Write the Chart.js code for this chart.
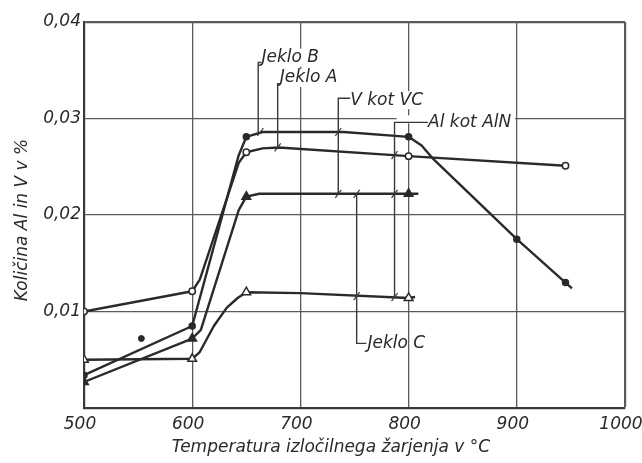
<!DOCTYPE html>
<html>
<head>
<meta charset="utf-8">
<script src="https://cdn.jsdelivr.net/npm/chart.js@4.4.1/dist/chart.umd.min.js"></script>
<style>
  html, body { margin: 0; padding: 0; background: #fff; }
</style>
</head>
<body>
<canvas id="chart" width="642" height="463"></canvas>
<script>
// --- data ---
const xTicks = [500, 600, 700, 800, 900, 1000];
const yTicks = [0, 0.01, 0.02, 0.03, 0.04];

// Jeklo B (filled circles)
const jekloB_T = [500, 600, 643, 650, 665, 740, 800, 812, 822, 900, 945, 951];
const jekloB_V = [0.0034, 0.0085, 0.0262, 0.0281, 0.0286, 0.0286, 0.0281, 0.0272, 0.0259, 0.0175, 0.0130, 0.0124];
const jekloB_meas = [500, 600, 650, 800, 900, 945];

// Jeklo A (open circles)
const jekloA_T = [500, 600, 607, 643, 650, 665, 680, 800, 945];
const jekloA_V = [0.0100, 0.0121, 0.0133, 0.0254, 0.0265, 0.0269, 0.0270, 0.0261, 0.0251];
const jekloA_meas = [500, 600, 650, 800, 945];

// Jeklo C, V (filled triangles)
const jekloCV_T = [500, 600, 608, 643, 650, 662, 800, 809];
const jekloCV_V = [0.0027, 0.0072, 0.0081, 0.0205, 0.0219, 0.0222, 0.0222, 0.0222];
const jekloCV_meas = [500, 600, 650, 800];

// Jeklo C, Al (open triangles)
const jekloCAl_T = [500, 600, 607, 620, 632, 642, 650, 700, 800, 806];
const jekloCAl_V = [0.0050, 0.0051, 0.0058, 0.0085, 0.0104, 0.0114, 0.0120, 0.0119, 0.0114, 0.0115];
const jekloCAl_meas = [500, 600, 650, 800];

// single stray point
const strayT = [553];
const strayV = [0.0072];

// --- labels with leader lines (data units) ---
const notes = [
  { text: 'Jeklo B',    at: [664, 0.0363], path: [[664, 0.0358], [661, 0.0358], [661, 0.0286]], bg: true },
  { text: 'Jeklo A',    at: [681, 0.0342], path: [[681, 0.0336], [679, 0.0336], [679, 0.0270]], bg: true },
  { text: 'V kot VC',   at: [746, 0.0319], path: [[746, 0.0321], [735, 0.0321], [735, 0.0222]], bg: true },
  { text: 'Al kot AlN', at: [818, 0.0296], path: [[818, 0.0296], [787, 0.0296], [787, 0.0115]], bg: true },
  { text: 'Jeklo C',    at: [762, 0.0067], path: [[761, 0.0067], [752, 0.0067], [752, 0.0222]], bg: false }
];
const slashes = [[663, 0.0286], [679, 0.0270], [735, 0.0286], [735, 0.0222], [752, 0.0222],
                 [752, 0.0116], [787, 0.0262], [787, 0.0222], [787, 0.0115]];

const INK = '#2a2a2a';
const FONT = 'italic 17px "DejaVu Sans"';

function pts(T, V) { return T.map((t, i) => ({ x: t, y: V[i] })); }
function marks(meas, r) {
  return ctx => (ctx.raw && meas.includes(ctx.raw.x)) ? r : 0;
}

const annotate = {
  id: 'annotate',
  afterDatasetsDraw(chart) {
    const { ctx, scales: { x, y } } = chart;
    ctx.save();
    ctx.font = FONT;
    ctx.textBaseline = 'middle';
    ctx.textAlign = 'left';
    notes.forEach(n => {
      const tx = x.getPixelForValue(n.at[0]);
      const ty = y.getPixelForValue(n.at[1]);
      const w = ctx.measureText(n.text).width;
      if (n.bg) {
        // clear grid behind the text, and a thin strip along the leader
        const x0 = Math.min(...n.path.map(p => x.getPixelForValue(p[0]))) + 2;
        ctx.fillStyle = '#fff';
        ctx.fillRect(tx - 3, ty - 9, w + 7, 18);
        ctx.fillRect(x0, ty - 7, tx - x0, 8);
      }
      ctx.strokeStyle = '#3a3a3a';
      ctx.lineWidth = 1.4;
      ctx.beginPath();
      n.path.forEach((p, i) => {
        const px = x.getPixelForValue(p[0]), py = y.getPixelForValue(p[1]);
        i ? ctx.lineTo(px, py) : ctx.moveTo(px, py);
      });
      ctx.stroke();
      ctx.fillStyle = INK;
      ctx.fillText(n.text, tx, ty);
    });
    ctx.lineWidth = 1.2;
    slashes.forEach(s => {
      const px = x.getPixelForValue(s[0]), py = y.getPixelForValue(s[1]);
      ctx.beginPath();
      ctx.moveTo(px - 3, py + 4);
      ctx.lineTo(px + 3, py - 4);
      ctx.stroke();
    });
    // axis titles
    ctx.fillStyle = INK;
    ctx.textAlign = 'center';
    ctx.fillText('Temperatura izločilnega žarjenja v °C', 331, 448);
    ctx.translate(23, 220);
    ctx.rotate(-Math.PI / 2);
    ctx.fillText('Količina Al in V v %', 0, 0);
    ctx.restore();
  }
};

const lineStyle = {
  borderColor: INK,
  borderWidth: 2.4,
  borderJoinStyle: 'round',
  pointBorderColor: INK,
  pointBorderWidth: 1.5,
  pointHoverRadius: 0,
  tension: 0,
  showLine: true
};

new Chart(document.getElementById('chart'), {
  type: 'scatter',
  data: {
    datasets: [
      Object.assign({ label: 'Jeklo B', data: pts(jekloB_T, jekloB_V),
        pointStyle: 'circle', pointRadius: marks(jekloB_meas, 3), pointBackgroundColor: INK }, lineStyle),
      Object.assign({ label: 'Jeklo A', data: pts(jekloA_T, jekloA_V),
        pointStyle: 'circle', pointRadius: marks(jekloA_meas, 3.2), pointBackgroundColor: '#fff' }, lineStyle),
      Object.assign({ label: 'Jeklo C (V)', data: pts(jekloCV_T, jekloCV_V),
        pointStyle: 'triangle', pointRadius: marks(jekloCV_meas, 5), pointBackgroundColor: INK }, lineStyle),
      Object.assign({ label: 'Jeklo C (Al)', data: pts(jekloCAl_T, jekloCAl_V),
        pointStyle: 'triangle', pointRadius: marks(jekloCAl_meas, 5), pointBackgroundColor: '#fff' }, lineStyle),
      { label: 'točka', data: pts(strayT, strayV), showLine: false,
        pointStyle: 'circle', pointRadius: 3, pointBackgroundColor: INK, pointBorderColor: INK }
    ]
  },
  options: {
    responsive: false,
    animation: false,
    devicePixelRatio: 1,
    layout: { padding: { top: 22, right: 17, bottom: 0, left: 0 } },
    plugins: { legend: { display: false }, tooltip: { enabled: false } },
    scales: {
      x: {
        type: 'linear', min: 500, max: 1000,
        afterBuildTicks: s => { s.ticks = xTicks.map(v => ({ value: v })); },
        afterFit: s => { s.height = 55; s.paddingLeft = 0; s.paddingRight = 0; },
        grid: {
          color: '#5a5a5a',
          lineWidth: c => (c.tick && c.tick.value === 1000) ? 2.2 : 1.3,
          drawTicks: false
        },
        border: { display: true, color: '#3a3a3a', width: 2.2 },
        ticks: {
          padding: 6, color: INK, maxRotation: 0, labelOffset: -4,
          font: { family: 'DejaVu Sans', style: 'italic', size: 17 },
          callback: v => String(v)
        }
      },
      y: {
        type: 'linear', min: 0, max: 0.04,
        afterBuildTicks: s => { s.ticks = yTicks.map(v => ({ value: v })); },
        afterFit: s => { s.width = 84; s.paddingTop = 0; s.paddingBottom = 0; },
        grid: {
          color: '#5a5a5a',
          lineWidth: c => (c.tick && c.tick.value === 0.04) ? 2.2 : 1.3,
          drawTicks: false
        },
        border: { display: true, color: '#3a3a3a', width: 2.2 },
        ticks: {
          padding: 3, color: INK,
          font: { family: 'DejaVu Sans', style: 'italic', size: 17 },
          callback: v => v === 0 ? '' : v.toFixed(2).replace('.', ',')
        }
      }
    }
  },
  plugins: [annotate]
});
</script>
</body>
</html>
